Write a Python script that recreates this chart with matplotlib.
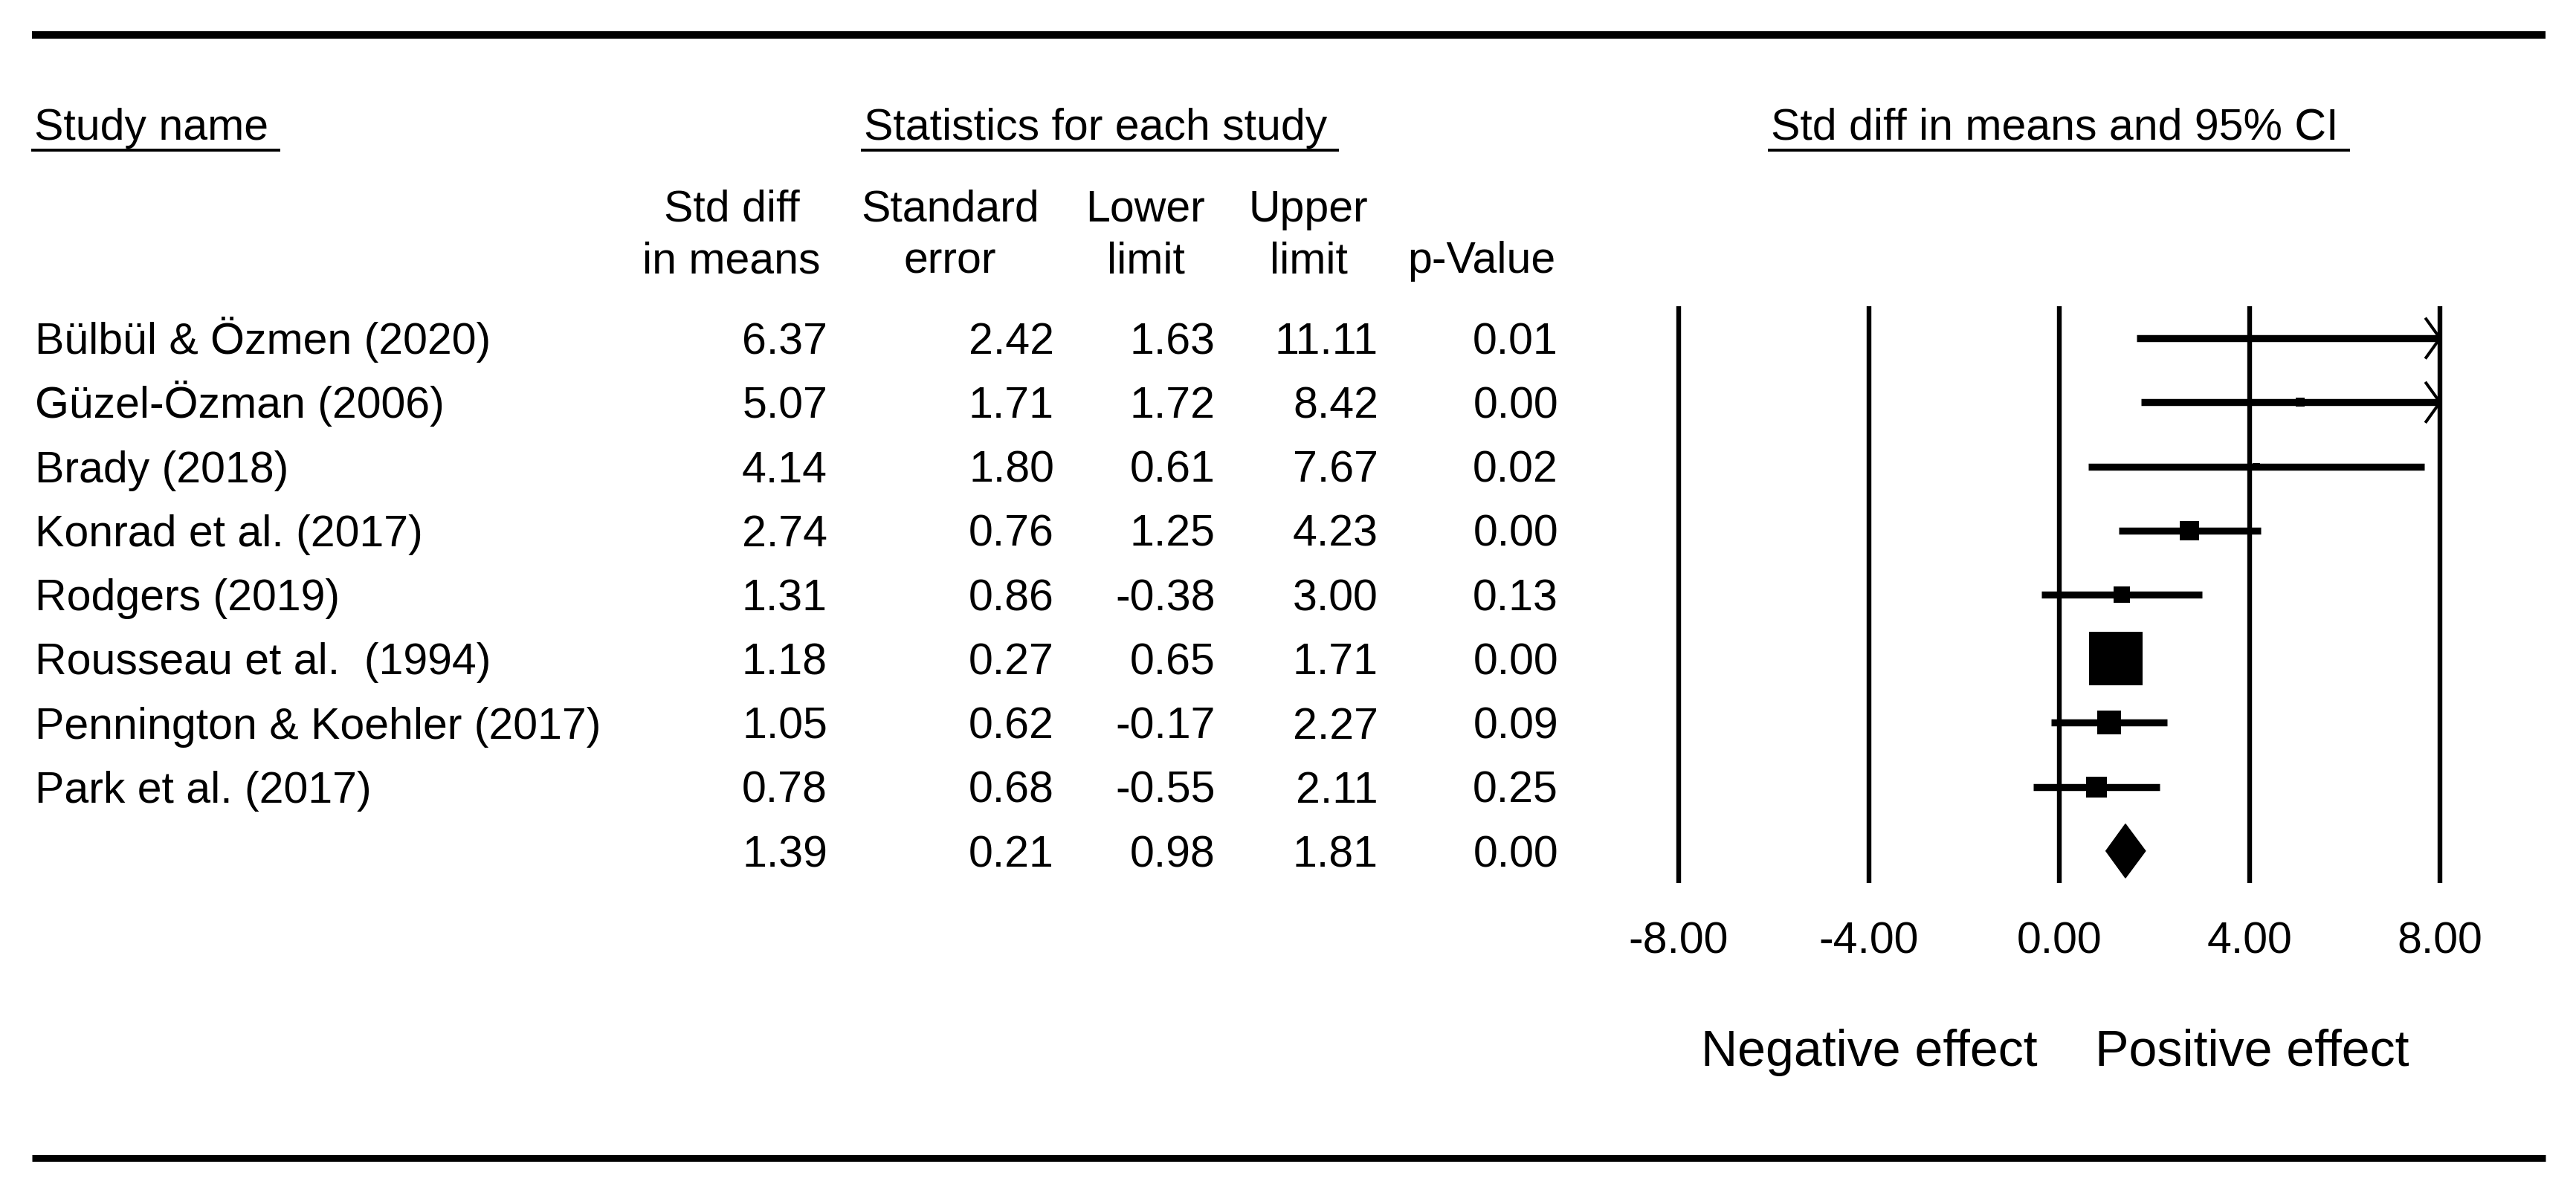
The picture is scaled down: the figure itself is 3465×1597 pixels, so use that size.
"""
Forest plot of standardized mean differences with the statistics table.
"""

import matplotlib

matplotlib.use("Agg")
import matplotlib.pyplot as plt
import matplotlib.transforms as mtransforms
from matplotlib.patches import Polygon

plt.rcParams["font.family"] = ["Liberation Sans", "DejaVu Sans"]
FONTSIZE = 42.5
W, H = 3466, 1597

studies = [
    "Bülbül & Özmen (2020)",
    "Güzel-Özman (2006)",
    "Brady (2018)",
    "Konrad et al. (2017)",
    "Rodgers (2019)",
    "Rousseau et al.  (1994)",
    "Pennington & Koehler (2017)",
    "Park et al. (2017)",
]
std_diff = [6.37, 5.07, 4.14, 2.74, 1.31, 1.18, 1.05, 0.78]
std_err = [2.42, 1.71, 1.80, 0.76, 0.86, 0.27, 0.62, 0.68]
lower = [1.63, 1.72, 0.61, 1.25, -0.38, 0.65, -0.17, -0.55]
upper = [11.11, 8.42, 7.67, 4.23, 3.00, 1.71, 2.27, 2.11]
p_value = [0.01, 0.00, 0.02, 0.00, 0.13, 0.00, 0.09, 0.25]

summary_diff = 1.39
summary_se = 0.21
summary_lower = 0.98
summary_upper = 1.81
summary_p = 0.00

x_ticks = [-8, -4, 0, 4, 8]
col_headers = [
    ("Std diff", "in means"),
    ("Standard", "error"),
    ("Lower", "limit"),
    ("Upper", "limit"),
    ("", "p-Value"),
]

# layout (pixels of the output image)
col_right = [1113, 1418, 1635, 1854, 2096]
col_center = [984, 1278, 1541, 1760, 1993]
name_x = 47
baseline_offset = 0.245  # rows, from row center to text baseline
box_scale = 19.6 / 1.389  # box side in points = box_scale / se

fig = plt.figure(figsize=(W / 100, H / 100), dpi=100)
bg = fig.add_axes([0, 0, 1, 1])
bg.set_xlim(0, W)
bg.set_ylim(H, 0)
bg.axis("off")

ax = fig.add_axes(
    [2258 / W, 1 - 1188 / H, (3282 - 2258) / W, (1188 - 412) / H]
)
xmin, xmax = x_ticks[0], x_ticks[-1]
n = len(studies)
ax.set_xlim(xmin, xmax)
ax.set_ylim(n + 0.5, -0.5)
for s in ax.spines.values():
    s.set_visible(False)
ax.set_facecolor("none")

# rules
bg.hlines(47, 43, 3424, color="black", lw=7.2)
bg.hlines(1558, 43, 3424, color="black", lw=6.6)

# group headers, underlined
headers = [
    bg.text(46, 188, "Study name", fontsize=FONTSIZE),
    bg.text(1162, 188, "Statistics for each study", fontsize=FONTSIZE),
    bg.text(2382, 188, "Std diff in means and 95% CI", fontsize=FONTSIZE),
]

# column headers
for cx, (top, bottom) in zip(col_center, col_headers):
    bg.text(cx, 298, top, fontsize=FONTSIZE, ha="center")
    bg.text(cx, 367, bottom, fontsize=FONTSIZE, ha="center")

# table rows share the forest plot's row scale
trans = mtransforms.blended_transform_factory(bg.transData, ax.transData)
for i, name in enumerate(studies):
    y = i + baseline_offset
    bg.text(name_x, y, name, fontsize=FONTSIZE, transform=trans)
    values = [std_diff[i], std_err[i], lower[i], upper[i], p_value[i]]
    for cx, v in zip(col_right, values):
        bg.text(cx, y, f"{v:.2f}", fontsize=FONTSIZE, ha="right",
                transform=trans)
summary_values = [summary_diff, summary_se, summary_lower, summary_upper,
                  summary_p]
for cx, v in zip(col_right, summary_values):
    bg.text(cx, n + baseline_offset, f"{v:.2f}", fontsize=FONTSIZE,
            ha="right", transform=trans)

# forest plot
ax.vlines(x_ticks, -0.5, n + 0.5, color="black", lw=4.6, clip_on=False)
for i in range(n):
    hi = min(upper[i], xmax)
    ax.plot([lower[i], hi], [i, i], color="black", lw=6.8,
            solid_capstyle="butt", clip_on=False)
    if upper[i] > xmax:
        ax.plot([xmax - 0.29, xmax, xmax - 0.29], [i - 0.3, i, i + 0.3],
                color="black", lw=2.9, clip_on=False)
    ax.plot(std_diff[i], i, marker="s", color="black",
            markersize=box_scale / std_err[i], markeredgewidth=0,
            clip_on=False)

ax.add_patch(
    Polygon(
        [
            (summary_lower, n),
            (summary_diff, n - 0.42),
            (summary_upper, n),
            (summary_diff, n + 0.42),
        ],
        closed=True,
        facecolor="black",
        edgecolor="black",
        lw=1,
        clip_on=False,
    )
)

ax.set_xticks(x_ticks, [f"{t:.2f}" for t in x_ticks])
ax.set_yticks([])
ax.tick_params(axis="x", length=0, pad=37, labelsize=FONTSIZE)

bg.text(2741, 1434, "Negative effect", fontsize=49, ha="right")
bg.text(2818, 1434, "Positive effect", fontsize=49, ha="left")

# underline the group headers
fig.canvas.draw()
renderer = fig.canvas.get_renderer()
inv = bg.transData.inverted()
for t in headers:
    bb = t.get_window_extent(renderer)
    (x0, _), (x1, _) = inv.transform([[bb.x0, bb.y0], [bb.x1, bb.y1]])
    bg.hlines(202, x0 - 4, x1 + 16, color="black", lw=2.8)

fig.savefig("out.png", dpi=100, facecolor="white")
plt.close(fig)
